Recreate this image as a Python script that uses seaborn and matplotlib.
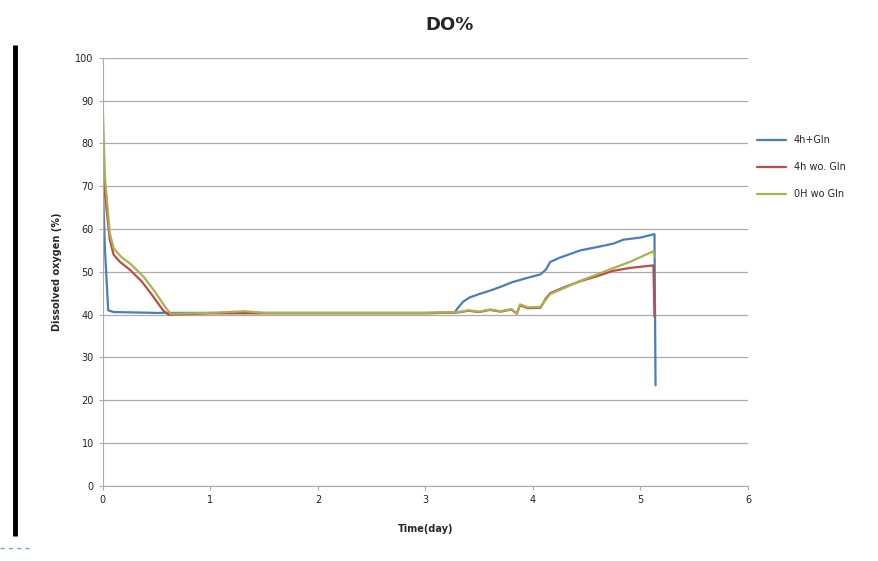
import pandas as pd
import numpy as np
import matplotlib.pyplot as plt
import seaborn as sns

# ---------------- data ----------------
series_names = ["4h+Gln", "4h wo. Gln", "0H wo Gln"]

t_blue = [0, 0.02, 0.05, 0.1, 0.5, 1.0, 1.5, 2.0, 2.5, 3.0, 3.27, 3.3, 3.35, 3.41, 3.5, 3.6,
          3.7, 3.81, 3.95, 4.07, 4.12, 4.16, 4.25, 4.35, 4.44, 4.6, 4.75, 4.84, 5.0, 5.13, 5.14]
do_blue = [70, 55, 41, 40.6, 40.4, 40.4, 40.4, 40.4, 40.4, 40.4, 40.5, 41.5, 43, 44, 44.8, 45.6,
           46.5, 47.6, 48.6, 49.4, 50.5, 52.3, 53.3, 54.2, 55, 55.8, 56.6, 57.5, 58, 58.8, 23.5]

t_red = [0, 0.02, 0.065, 0.1, 0.16, 0.25, 0.36, 0.46, 0.56, 0.61, 1.0, 1.5, 2.0, 2.5, 3.0, 3.3,
         3.4, 3.5, 3.6, 3.7, 3.8, 3.85, 3.88, 3.95, 4.07, 4.12, 4.16, 4.3, 4.44, 4.6, 4.74, 4.9,
         5.12, 5.13]
do_red = [78, 68, 57.5, 54, 52.3, 50.5, 47.8, 44.5, 41, 40, 40.3, 40.3, 40.3, 40.3, 40.3, 40.5,
          40.9, 40.6, 41.1, 40.7, 41.2, 40.2, 42.2, 41.5, 41.6, 43.8, 45, 46.5, 47.8, 49, 50.2,
          50.9, 51.5, 39.5]

t_olive = [0, 0.02, 0.065, 0.1, 0.17, 0.26, 0.38, 0.48, 0.58, 0.63, 1.0, 1.32, 1.5, 2.0, 2.5,
           3.0, 3.3, 3.4, 3.5, 3.6, 3.7, 3.8, 3.85, 3.88, 3.95, 4.07, 4.12, 4.16, 4.3, 4.44, 4.6,
           4.74, 4.9, 5.12, 5.13]
do_olive = [88, 72, 59, 55.5, 53.5, 51.8, 48.8, 45.5, 41.8, 40.2, 40.4, 40.8, 40.4, 40.4, 40.4,
            40.4, 40.6, 41, 40.7, 41.2, 40.8, 41.3, 40.3, 42.4, 41.7, 41.8, 43.5, 44.8, 46.3,
            47.9, 49.4, 50.8, 52.3, 54.8, 53.5]

colors = ["#4A7EBB", "#BE4B48", "#A9B24E"]

df = pd.concat([
    pd.DataFrame({"Time(day)": t_blue, "DO": do_blue, "series": series_names[0]}),
    pd.DataFrame({"Time(day)": t_red, "DO": do_red, "series": series_names[1]}),
    pd.DataFrame({"Time(day)": t_olive, "DO": do_olive, "series": series_names[2]}),
])

sns.set_style("white")
plt.rcParams['font.family'] = ['DejaVu Sans']

fig = plt.figure(figsize=(8.79, 5.61), dpi=100)
ax = fig.add_axes([0.117, 0.134, 0.734, 0.763])

sns.lineplot(data=df, x="Time(day)", y="DO", hue="series", palette=colors,
             sort=False, estimator=None, linewidth=1.6, ax=ax)

ax.set_xlim(0, 6)
ax.set_ylim(0, 100)
ax.set_xticks(range(0, 7))
ax.set_yticks(range(0, 101, 10))
ax.yaxis.grid(True, color="#ABABAB", linewidth=0.9)
ax.xaxis.grid(False)
for s in ["top", "right"]:
    ax.spines[s].set_visible(False)
for s in ["left", "bottom"]:
    ax.spines[s].set_color("#ABABAB")
ax.tick_params(axis="both", labelsize=7, colors="#222222", length=3, color="#ABABAB",
               direction="out", left=True, bottom=True)

ax.set_xlabel("Time(day)", fontsize=7, fontweight="bold", labelpad=14)
ax.set_ylabel("Dissolved oxygen (%)", fontsize=7, fontweight="bold", labelpad=10)
fig.text(0.511, 0.955, "DO%", ha="center", va="center", fontsize=13, fontweight="bold")

ax.legend(loc="center left", bbox_to_anchor=(1.0, 0.745), frameon=False, fontsize=7,
          handlelength=3, labelspacing=1.75, title=None)

# decorative slide elements
fig.add_artist(plt.Line2D([0.017, 0.017], [0.045, 0.92], color="black", linewidth=3.5,
                          solid_capstyle="butt"))
fig.add_artist(plt.Line2D([0.0, 0.035], [0.024, 0.024], color="#7FA3CC", linewidth=1,
                          linestyle=(0, (3, 3))))

fig.savefig("out.png", dpi=100)
